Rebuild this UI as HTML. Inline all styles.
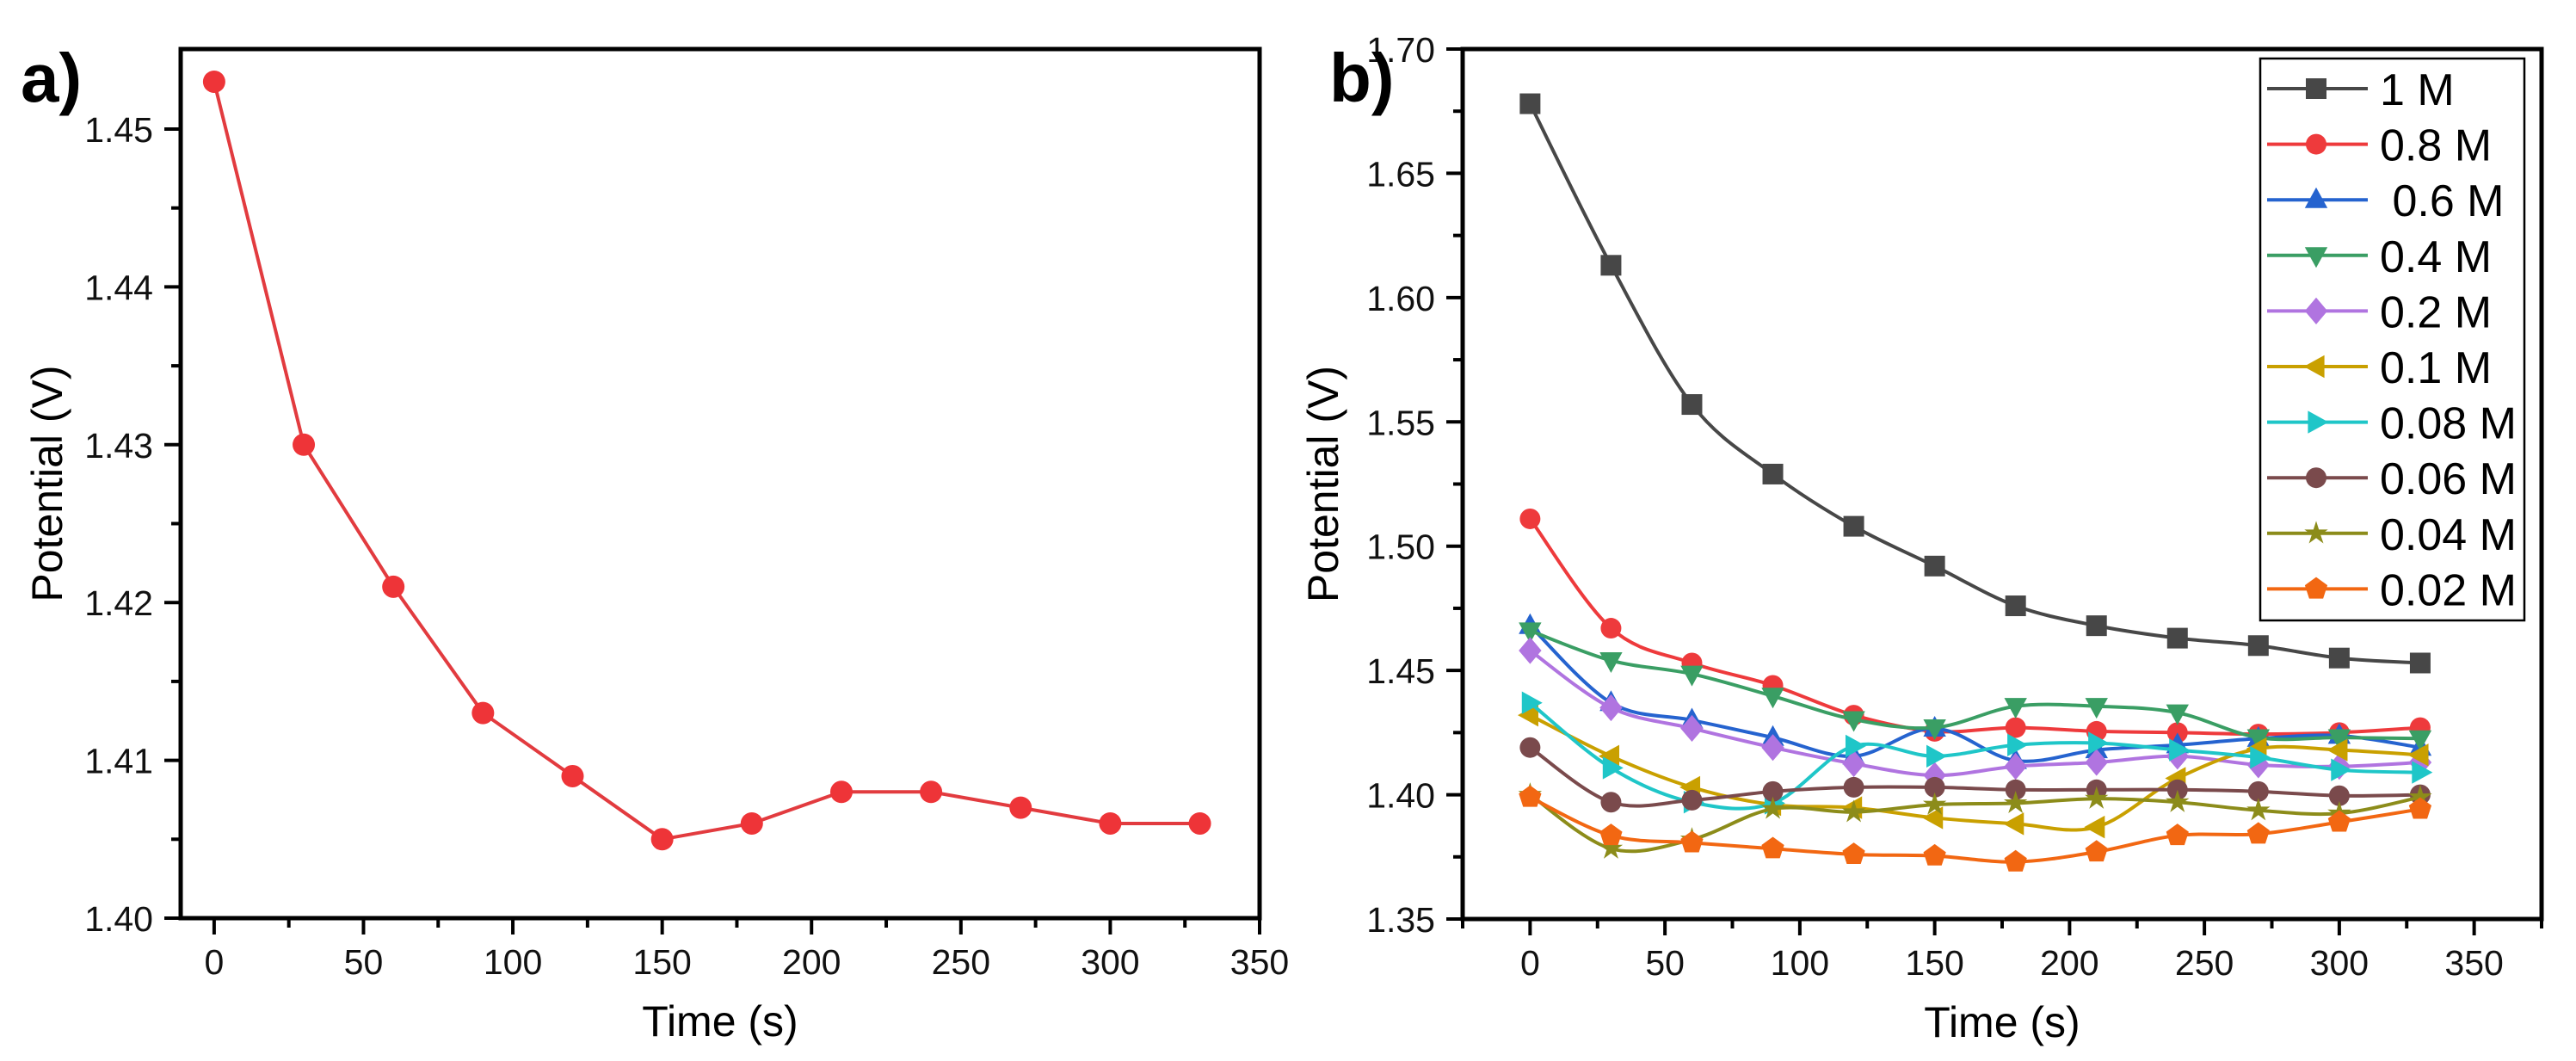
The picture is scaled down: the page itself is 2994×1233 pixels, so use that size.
<!DOCTYPE html>
<html><head><meta charset="utf-8"><style>html,body{margin:0;padding:0;background:#fff}svg{display:block}text{font-family:"Liberation Sans",Arial,sans-serif}</style></head>
<body>
<svg id="fig" width="2994" height="1233" viewBox="0 0 2994 1233" xmlns="http://www.w3.org/2000/svg">
<rect width="2994" height="1233" fill="#fff"/>
<g id="pa"></g>
<g id="pb"></g>
</svg>
<script>
const timesA = [0,30,60,90,120,150,180,210,240,270,300,330];
const potentialA = [1.453,1.430,1.421,1.413,1.409,1.405,1.406,1.408,1.408,1.407,1.406,1.406];
const xTicksA = [0,50,100,150,200,250,300,350];
const yTicksA = [1.40,1.41,1.42,1.43,1.44,1.45];
const yTickLabelsA = ["1.40","1.41","1.42","1.43","1.44","1.45"];

const timesB = [0,30,60,90,120,150,180,210,240,270,300,330];
const seriesNames = ["1 M","0.8 M"," 0.6 M","0.4 M","0.2 M","0.1 M","0.08 M","0.06 M","0.04 M","0.02 M"];
const s1M   = [1.678,1.613,1.557,1.529,1.508,1.492,1.476,1.468,1.463,1.460,1.455,1.453];
const s08M  = [1.511,1.467,1.453,1.444,1.432,1.4255,1.427,1.4255,1.425,1.4244,1.425,1.427];
const s06M  = [1.468,1.437,1.430,1.423,1.4155,1.4267,1.4137,1.418,1.420,1.4226,1.4238,1.419];
const s04M  = [1.466,1.454,1.4486,1.4397,1.4303,1.427,1.4356,1.4356,1.433,1.423,1.423,1.4226];
const s02M  = [1.458,1.435,1.4267,1.419,1.4125,1.4078,1.4114,1.413,1.4155,1.412,1.4114,1.413];
const s01M  = [1.432,1.4155,1.403,1.396,1.3948,1.3907,1.3883,1.387,1.4066,1.4185,1.418,1.416];
const s008M = [1.437,1.4108,1.397,1.3966,1.4196,1.4155,1.420,1.4208,1.418,1.415,1.410,1.409];
const s006M = [1.419,1.397,1.3978,1.4013,1.403,1.403,1.402,1.402,1.402,1.4013,1.3996,1.400];
const s004M = [1.400,1.3783,1.382,1.3943,1.393,1.396,1.3966,1.3984,1.397,1.3937,1.3925,1.399];
const s002M = [1.399,1.3836,1.3807,1.3783,1.376,1.3754,1.373,1.377,1.3836,1.3842,1.389,1.3942];
const xTicksB = [0,50,100,150,200,250,300,350];
const yTicksB = [1.35,1.40,1.45,1.50,1.55,1.60,1.65,1.70];
const yTickLabelsB = ["1.35","1.40","1.45","1.50","1.55","1.60","1.65","1.70"];

const NS = "http://www.w3.org/2000/svg";
function mk(tag, attrs, parent){const e=document.createElementNS(NS,tag);for(const k in attrs)e.setAttribute(k,attrs[k]);parent.appendChild(e);return e;}

// panel A scales
const A = {x0:210,x1:1464,t0:-11.2,t1:350,y0:1067,y1:57,v0:1.40,v1:1.40+1010/18340};
const xA = t => A.x0+(t-A.t0)/(A.t1-A.t0)*(A.x1-A.x0);
const yA = v => A.y0-(v-1.40)*18340;
// panel B scales
const B = {x0:1700,x1:2954,t0:-25,t1:375,y0:1068,y1:57};
const xB = t => B.x0+(t-B.t0)/(B.t1-B.t0)*(B.x1-B.x0);
const yB = v => B.y0-(v-1.35)/0.35*(B.y0-B.y1);

function axes(g, X0,X1,Y0,Y1, xS,yS, xt, xminor, yt, ylab, yminor, titleX, titleYX, letter, letterX){
  mk('rect',{x:X0,y:Y1,width:X1-X0,height:Y0-Y1,fill:'none',stroke:'#000','stroke-width':5},g);
  xt.forEach(t=>{const l=mk('line',{x1:xS(t),x2:xS(t),y1:Y0,y2:Y0+19,stroke:'#000','stroke-width':4},g);
    const tx=mk('text',{x:xS(t),y:Y0+65,'font-size':41,'text-anchor':'middle',fill:'#111'},g);tx.textContent=t;});
  xminor.forEach(t=>{const l=mk('line',{x1:xS(t),x2:xS(t),y1:Y0,y2:Y0+11,stroke:'#000','stroke-width':4},g);});
  yt.forEach((v,i)=>{const l=mk('line',{x1:X0-19,x2:X0,y1:yS(v),y2:yS(v),stroke:'#000','stroke-width':4},g);
    const tx=mk('text',{x:X0-32,y:yS(v)+15,'font-size':41,'text-anchor':'end',fill:'#111'},g);tx.textContent=ylab[i];});
  yminor.forEach(v=>{const l=mk('line',{x1:X0-11,x2:X0,y1:yS(v),y2:yS(v),stroke:'#000','stroke-width':4},g);});
  const xt2=mk('text',{x:titleX,y:Y0+137,'font-size':50,'text-anchor':'middle',fill:'#000'},g);xt2.textContent='Time (s)';
  
  const yc=(Y0+Y1)/2;
  const yt2=mk('text',{x:titleYX,y:yc,'font-size':50,'text-anchor':'middle',fill:'#000',transform:`rotate(-90 ${titleYX} ${yc})`},g);yt2.textContent='Potential (V)';
  
  const lt=mk('text',{x:letterX,y:118,'font-size':80,'font-weight':'bold',fill:'#000'},g);lt.textContent=letter;
  
}

const ga=document.getElementById('pa');
axes(ga,A.x0,A.x1,A.y0,A.y1,xA,yA,xTicksA,[25,75,125,175,225,275,325],yTicksA,yTickLabelsA,[1.405,1.415,1.425,1.435,1.445],(A.x0+A.x1)/2,72,'a)',24);
const pts=timesA.map((t,i)=>xA(t)+','+yA(potentialA[i])).join(' ');
const pl=mk('polyline',{points:pts,fill:'none',stroke:'#e23b3f','stroke-width':4},ga);

timesA.forEach((t,i)=>{const c=mk('circle',{cx:xA(t),cy:yA(potentialA[i]),r:13,fill:'#ee3438'},ga);
  });

const gb=document.getElementById('pb');
axes(gb,B.x0,B.x1,B.y0,B.y1,xB,yB,xTicksB,[-25,25,75,125,175,225,275,325,375],yTicksB,yTickLabelsB,[1.375,1.425,1.475,1.525,1.575,1.625,1.675],(B.x0+B.x1)/2,1555,'b)',1545);

const seriesVals=[s1M,s08M,s06M,s04M,s02M,s01M,s008M,s006M,s004M,s002M];
const colors=['#474747','#ee3a3c','#2563cf','#3a9e64','#b074e0','#c9a000','#1fc6c8','#7a4a4c','#8c8c1a','#f26712'];
const shapes=['square','circle','up','down','diamond','left','right','circle','star','pentagon'];
function marker(g,shape,cx,cy,col,s){
  let e;
  if(shape==='square') e=mk('rect',{x:cx-s,y:cy-s,width:2*s,height:2*s,fill:col},g);
  else if(shape==='circle') e=mk('circle',{cx:cx,cy:cy,r:s,fill:col},g);
  else {
    let p=[];
    if(shape==='up') p=[[0,-1.2],[1.1,0.8],[-1.1,0.8]];
    if(shape==='down') p=[[0,1.2],[1.1,-0.8],[-1.1,-0.8]];
    if(shape==='left') p=[[-1.2,0],[0.8,-1.1],[0.8,1.1]];
    if(shape==='right') p=[[1.2,0],[-0.8,-1.1],[-0.8,1.1]];
    if(shape==='diamond') p=[[0,-1.3],[1.1,0],[0,1.3],[-1.1,0]];
    if(shape==='pentagon'){for(let k=0;k<5;k++){const a=-Math.PI/2+k*2*Math.PI/5;p.push([1.15*Math.cos(a),1.15*Math.sin(a)]);}}
    if(shape==='star'){for(let k=0;k<10;k++){const a=-Math.PI/2+k*Math.PI/5;const r=k%2?0.45:1.2;p.push([r*Math.cos(a),r*Math.sin(a)]);}}
    e=mk('polygon',{points:p.map(q=>(cx+q[0]*s)+','+(cy+q[1]*s)).join(' '),fill:col},g);
  }
  return e;
}
function smooth(P){let d=`M${P[0][0]},${P[0][1]}`;
  for(let i=0;i<P.length-1;i++){const p0=P[Math.max(0,i-1)],p1=P[i],p2=P[i+1],p3=P[Math.min(P.length-1,i+2)];
    const c1=[p1[0]+(p2[0]-p0[0])/6,p1[1]+(p2[1]-p0[1])/6],c2=[p2[0]-(p3[0]-p1[0])/6,p2[1]-(p3[1]-p1[1])/6];
    d+=` C${c1[0]},${c1[1]} ${c2[0]},${c2[1]} ${p2[0]},${p2[1]}`;}
  return d;}
seriesVals.forEach((vals,si)=>{
  const sg=mk('g',{},gb);
  
  
  const P=timesB.map((t,i)=>[xB(t),yB(vals[i])]);
  const pa=mk('path',{d:smooth(P),fill:'none',stroke:colors[si],'stroke-width':4},sg);
  
  P.forEach(p=>{const m=marker(sg,shapes[si],p[0],p[1],colors[si],12);
    });
});
// legend
const lg=mk('g',{},gb);


mk('rect',{x:2627,y:68,width:307,height:653,fill:'#fff',stroke:'#000','stroke-width':2.5},lg);
seriesNames.forEach((n,i)=>{
  const y=103+i*64.6;
  const eg=mk('g',{},lg);
  
  
  mk('line',{x1:2635,x2:2752,y1:y,y2:y,stroke:colors[i],'stroke-width':4},eg);
  marker(eg,shapes[i],2692,y,colors[i],12);
  const t=mk('text',{x:2766,y:y+19,'font-size':52,fill:'#000','xml:space':'preserve'},eg);
  t.setAttribute('style','white-space:pre');
  t.textContent=n;
});
</script>
</body></html>
